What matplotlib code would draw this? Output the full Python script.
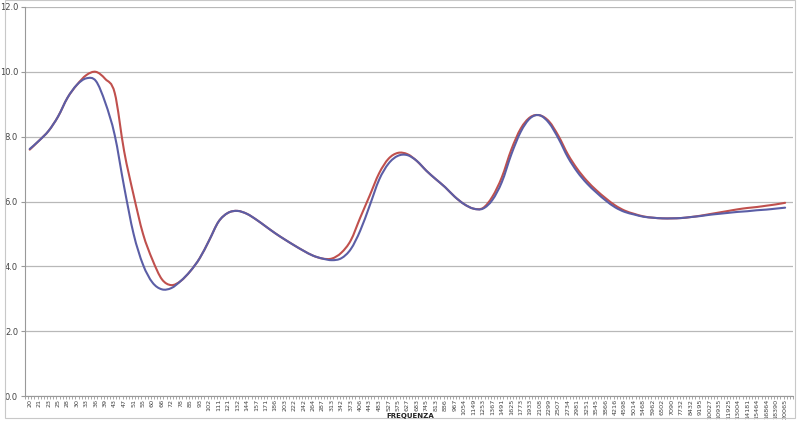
import matplotlib.pyplot as plt
from matplotlib.path import Path
from matplotlib.patches import PathPatch
import numpy as np

# frequency labels (category axis)
freq_labels = ['20', '21', '23', '25', '28', '30', '33', '36', '39', '43',
               '47', '51', '55', '60', '66', '72', '78', '85', '93', '102',
               '111', '121', '132', '144', '157', '171', '186', '203', '222', '242',
               '264', '287', '313', '342', '373', '406', '443', '483', '527', '575',
               '627', '683', '745', '813', '886', '967', '1054', '1149', '1253', '1367',
               '1491', '1625', '1773', '1933', '2108', '2299', '2507', '2734', '2981', '3251',
               '3545', '3866', '4216', '4598', '5014', '5468', '5962', '6502', '7090', '7732',
               '8432', '9195', '10027', '10935', '11925', '13004', '14181', '15464', '16864', '18390',
               '20065']

serie_blu = [7.62, 7.88, 8.18, 8.62, 9.2, 9.6, 9.8, 9.72, 9.05, 8.05,
             6.45, 5.0, 4.05, 3.5, 3.29, 3.33, 3.55, 3.85, 4.25, 4.8,
             5.38, 5.65, 5.71, 5.62, 5.44, 5.23, 5.02, 4.83, 4.65, 4.48,
             4.33, 4.24, 4.19, 4.25, 4.53, 5.1, 5.87, 6.67, 7.17, 7.41,
             7.43, 7.25, 6.95, 6.69, 6.44, 6.15, 5.92, 5.78, 5.78, 6.05,
             6.6, 7.45, 8.15, 8.57, 8.66, 8.42, 7.94, 7.36, 6.91, 6.56,
             6.28, 6.03, 5.82, 5.68, 5.6, 5.53, 5.5, 5.48, 5.48, 5.49,
             5.52, 5.55, 5.59, 5.62, 5.65, 5.68, 5.7, 5.73, 5.75, 5.78,
             5.81]

serie_rossa = [7.6, 7.88, 8.18, 8.62, 9.2, 9.6, 9.9, 10.0, 9.78, 9.35,
               7.55, 6.2, 5.0, 4.2, 3.6, 3.42, 3.55, 3.85, 4.25, 4.8,
               5.38, 5.65, 5.71, 5.62, 5.44, 5.23, 5.02, 4.83, 4.65, 4.48,
               4.33, 4.24, 4.24, 4.42, 4.8, 5.5, 6.18, 6.87, 7.32, 7.5,
               7.46, 7.25, 6.95, 6.69, 6.44, 6.15, 5.92, 5.78, 5.8, 6.15,
               6.75, 7.6, 8.25, 8.6, 8.66, 8.47, 8.02, 7.45, 7.0, 6.64,
               6.35, 6.1, 5.88, 5.72, 5.62, 5.54, 5.5, 5.48, 5.48, 5.49,
               5.52, 5.56, 5.61, 5.66, 5.71, 5.76, 5.8, 5.83, 5.87, 5.91,
               5.96]


def linea_smussata(ax, y, color):
    # smoothed line like Excel: Bezier segments through the data points
    y = np.asarray(y, dtype=float)
    x = np.arange(len(y), dtype=float)
    p = np.column_stack([x, y])
    pp = np.vstack([p[0], p, p[-1]])
    verts = [p[0]]
    codes = [Path.MOVETO]
    for i in range(len(p) - 1):
        c1 = pp[i + 1] + (pp[i + 2] - pp[i]) / 6
        c2 = pp[i + 2] - (pp[i + 3] - pp[i + 1]) / 6
        verts += [c1, c2, p[i + 1]]
        codes += [Path.CURVE4] * 3
    ax.add_patch(PathPatch(Path(verts, codes), facecolor='none',
                           edgecolor=color, linewidth=1.5,
                           capstyle='round', joinstyle='round'))


fig = plt.figure(figsize=(8, 4.24), dpi=100)
ax = fig.add_axes([25 / 800, 28 / 424, 768 / 800, 389 / 424])

linea_smussata(ax, serie_rossa, '#c0504d')
linea_smussata(ax, serie_blu, '#5b5ea6')

x = np.arange(len(freq_labels))
ax.set_xlim(-0.2, len(x) - 0.7)
ax.set_ylim(0, 12)
ax.set_yticks(np.arange(0, 12.1, 2))
ax.set_yticklabels([f'{v:.1f}' for v in np.arange(0, 12.1, 2)], fontsize=6, color='#444444')
ax.grid(axis='y', color='#b8b8b8', linewidth=0.9)
ax.set_axisbelow(True)

ax.set_xticks(x)
ax.set_xticklabels(freq_labels, rotation=90, fontsize=4.6, color='#444444')
ax.set_xticks(np.arange(-0.5, len(x), 1 / 3), minor=True)
ax.tick_params(axis='x', which='major', length=0, pad=2)
ax.tick_params(axis='x', which='minor', length=2, color='#999999')
ax.tick_params(axis='y', length=3, color='#999999', pad=2)

for s in ['top', 'right']:
    ax.spines[s].set_visible(False)
for s in ['left', 'bottom']:
    ax.spines[s].set_color('#999999')

fig.text(410 / 800, 1 - 416 / 424, 'FREQUENZA', fontsize=5, fontweight='bold',
         ha='center', va='center', color='#222222')

# bordo dell'area grafico
fig.add_artist(plt.Rectangle((5 / 800, 6 / 424), 790 / 800, 418 / 424,
                             transform=fig.transFigure, fill=False,
                             edgecolor='#c8c8c8', linewidth=0.8))

fig.savefig('out.png', dpi=100)
